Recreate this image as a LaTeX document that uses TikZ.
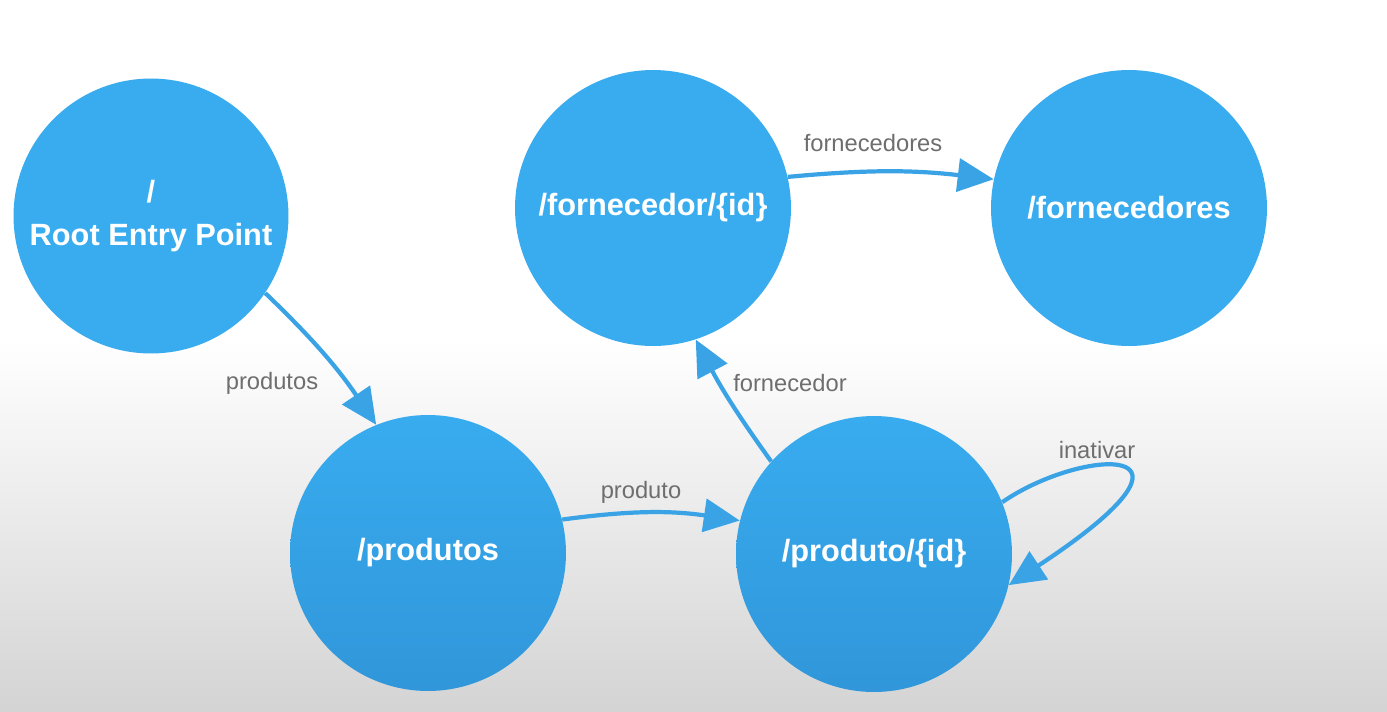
\documentclass[tikz,border=0pt]{standalone}
\usepackage{fontspec}
\setmainfont{Liberation Sans}
\usetikzlibrary{arrows.meta}
\definecolor{nodeblue}{HTML}{38ACEF}
\definecolor{nodeblueDark}{HTML}{3196DA}
\definecolor{edgeblue}{HTML}{3AA3E6}
\definecolor{lblgray}{HTML}{6E6E6E}
\tikzset{
  stnode/.style={circle, inner sep=0pt, minimum size=5.52cm, draw=none,
    text=white, font=\fontsize{17.5}{24}\selectfont\bfseries, align=center},
  topnode/.style={stnode, fill=nodeblue},
  lownode/.style={stnode, top color=nodeblue, bottom color=nodeblueDark},
  edge/.style={draw=edgeblue, line width=2.4pt,
    -{Triangle[length=0.72cm, width=0.66cm]}},
  lbl/.style={text=lblgray, font=\fontsize{13.5}{16}\selectfont, inner sep=1pt}
}
\begin{document}
\begin{tikzpicture}[x=0.02cm, y=-0.02cm]
\useasboundingbox (0,0) rectangle (1387,711);
\fill[white] (0,0) rectangle (1387,341);
\shade[top color=white, bottom color=black!17, draw=none] (0,340) rectangle (1387,711);

\node[topnode, minimum size=5.5cm] (root) at (151,216) {/\\Root Entry Point};
\node[topnode] (fid) at (653,208) {/fornecedor/\{id\}};
\node[topnode] (fs) at (1129,208) {/fornecedores};
\node[lownode] (prods) at (428,553) {/produtos};
\node[lownode] (pid) at (874,554) {/produto/\{id\}};

\draw[edge] (root.-34) to[bend left=6] (prods.112);
\draw[edge] (prods.14) to[bend left=8] (pid.166);
\draw[edge] (pid.138) to[bend left=4] (fid.-72);
\draw[edge] (fid.13) to[bend left=6] (fs.168);
\draw[edge] (pid.22) .. controls (1080,448) and (1232,438) .. (pid.-13);

\node[lbl] (lprods) at (272,383) {produtos};
\node[lbl] (lprod) at (641,492) {produto};
\node[lbl] (lforn) at (790,383) {fornecedor};
\node[lbl] (lforns) at (873,143) {fornecedores};
\node[lbl] (linat) at (1097,450) {inativar};
\end{tikzpicture}
\end{document}
